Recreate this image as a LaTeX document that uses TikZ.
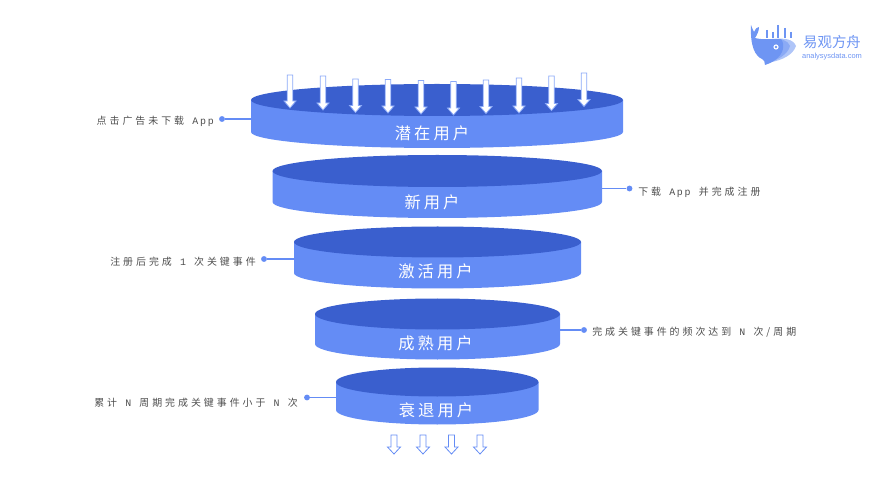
\documentclass[tikz,border=0pt]{standalone}
\usepackage{xcolor}
\usepackage{fontspec}
\setmainfont{Noto Sans CJK SC}[LetterSpace=30]
\newfontfamily\disktext{Noto Sans CJK SC}[LetterSpace=19]
\newfontfamily\logotext{Noto Sans CJK SC}
\newfontfamily\latintext{Liberation Mono}[LetterSpace=18]
\newfontfamily\urltext{Liberation Sans}
\usepackage{tikz}
\definecolor{disktop}{HTML}{3A5FCE}
\definecolor{diskside}{HTML}{648CF5}
\definecolor{labelgray}{HTML}{4D4D4D}
\definecolor{logoblue}{HTML}{6E95F3}
\tikzset{
	disklabel/.style={text=white,font=\disktext\fontsize{12.2pt}{14pt}\selectfont,inner sep=0pt},
	sidelabel/.style={text=labelgray,font=\fontsize{7.45pt}{9pt}\selectfont,inner sep=0pt},
	leaderdot/.style={circle,fill=diskside,inner sep=0pt,minimum size=4.4pt},
	leader/.style={draw=diskside,line width=1.4pt},
	downarrow/.style={draw=#1,fill=white,line width=0.6pt,line join=miter},
}
\newcommand{\lsp}{~\hspace{2.2pt}}
\newcommand{\N}{{\latintext N}}
\begin{document}
\begin{tikzpicture}[x=0.75pt,y=-0.75pt]
	\useasboundingbox (0,0) rectangle (885,477);
	\foreach \n/\xl/\xr/\yc/\ry/\h/\xt/\yt/\name in {
		1/251/623/100/16/32/432/133/潜在用户,
		2/272.5/602/171/16/31/432/202/新用户,
		3/294/581/242/15.5/31/435.5/271/激活用户,
		4/315/560/314/15.5/30/435.5/343/成熟用户,
		5/336/538.5/382/14.5/28/436/410/衰退用户} {
		\pgfmathsetmacro{\rx}{(\xr-\xl)/2}
		\fill[diskside] (\xl,\yc) -- (\xl,\yc+\h) arc[start angle=180,end angle=0,x radius=\rx,y radius=\ry] -- (\xr,\yc) -- cycle;
		\fill[disktop] (\xl,\yc) arc[start angle=180,end angle=-180,x radius=\rx,y radius=\ry];
		\node[disklabel] (disk\n) at (\xt,\yt) {\name};
	}

	\foreach \x/\ya/\yb in {290/75/108,323/76/110,355.5/79/112.5,388/79.5/113,421/80.5/114,453.5/81.5/115,486/80/113.5,519/78/113,551.5/76/110.5,584/73/106.5} {
		\draw[downarrow=diskside!75!white] (\x-2.8,\ya) -- (\x+2.8,\ya) -- (\x+2.8,\yb-7) -- (\x+6,\yb-7) -- (\x,\yb) -- (\x-6,\yb-7) -- (\x-2.8,\yb-7) -- cycle;
	}
	\foreach \x in {394,423,451.5,480} {
		\draw[downarrow=diskside] (\x-3,435) -- (\x+3,435) -- (\x+3,447) -- (\x+6.5,447) -- (\x,454) -- (\x-6.5,447) -- (\x-3,447) -- cycle;
	}

	\coordinate (rim1) at (251,119);
	\coordinate (rim2) at (602,188.5);
	\coordinate (rim3) at (294,259);
	\coordinate (rim4) at (560,330);
	\coordinate (rim5) at (336,397.5);
	\node[leaderdot] (dot1) at (222,119) {};
	\node[leaderdot] (dot2) at (629.5,188.5) {};
	\node[leaderdot] (dot3) at (264,259) {};
	\node[leaderdot] (dot4) at (584,330) {};
	\node[leaderdot] (dot5) at (307,397.5) {};
	\foreach \n in {1,...,5} {
		\draw[leader] (rim\n) -- (dot\n);
	}
	\node[sidelabel,anchor=east] (label1) at (214,121) {点击广告未下载\lsp{\latintext App}};
	\node[sidelabel,anchor=west] (label2) at (638,192) {下载\lsp{\latintext App}\lsp 并完成注册};
	\node[sidelabel,anchor=east] (label3) at (256,262) {注册后完成\lsp{\latintext 1}\lsp 次关键事件};
	\node[sidelabel,anchor=west] (label4) at (592,332) {完成关键事件的频次达到\lsp\N\lsp 次/周期};
	\node[sidelabel,anchor=east] (label5) at (298,403) {累计\lsp\N\lsp 周期完成关键事件小于\lsp\N\lsp 次};

	\fill[logoblue!55!white] (775,39) .. controls (785,38) and (793,39) .. (796,46) .. controls (793,55) and (782,60) .. (772,62) -- cycle;
	\fill[logoblue!80!white] (772,39) .. controls (780,38) and (788,40) .. (790,46) .. controls (788,54) and (778,60) .. (768,63) -- cycle;
	\fill[logoblue] (751,25) .. controls (752,28) and (753,30) .. (754,32) .. controls (755,29) and (757,27) .. (759,27) .. controls (759,31) and (757,35) .. (755,38) .. controls (762,40) and (772,39) .. (781,39) .. controls (785,44) and (784,54) .. (775,60) .. controls (771,63) and (768,64) .. (765,65) .. controls (765,62) and (764,60) .. (762,59) .. controls (755,56) and (750,46) .. (751,25) -- cycle;
	\fill[white] (776,47) circle (2.6);
	\fill[logoblue] (776,47) circle (1.3);
	\foreach \x/\y in {767/30,773/32,778/25,785/28,791/32} {
		\draw[logoblue,line width=1.6pt] (\x,\y) -- (\x,38);
	}
	\node[inner sep=0pt,text=logoblue,font=\logotext\fontsize{10.8pt}{12pt}\selectfont] (logoname) at (832,42) {易观方舟};
	\node[inner sep=0pt,text=logoblue,font=\urltext\fontsize{5.6pt}{7pt}\selectfont] (logourl) at (832,56.5) {analysysdata.com};
\end{tikzpicture}
\end{document}
